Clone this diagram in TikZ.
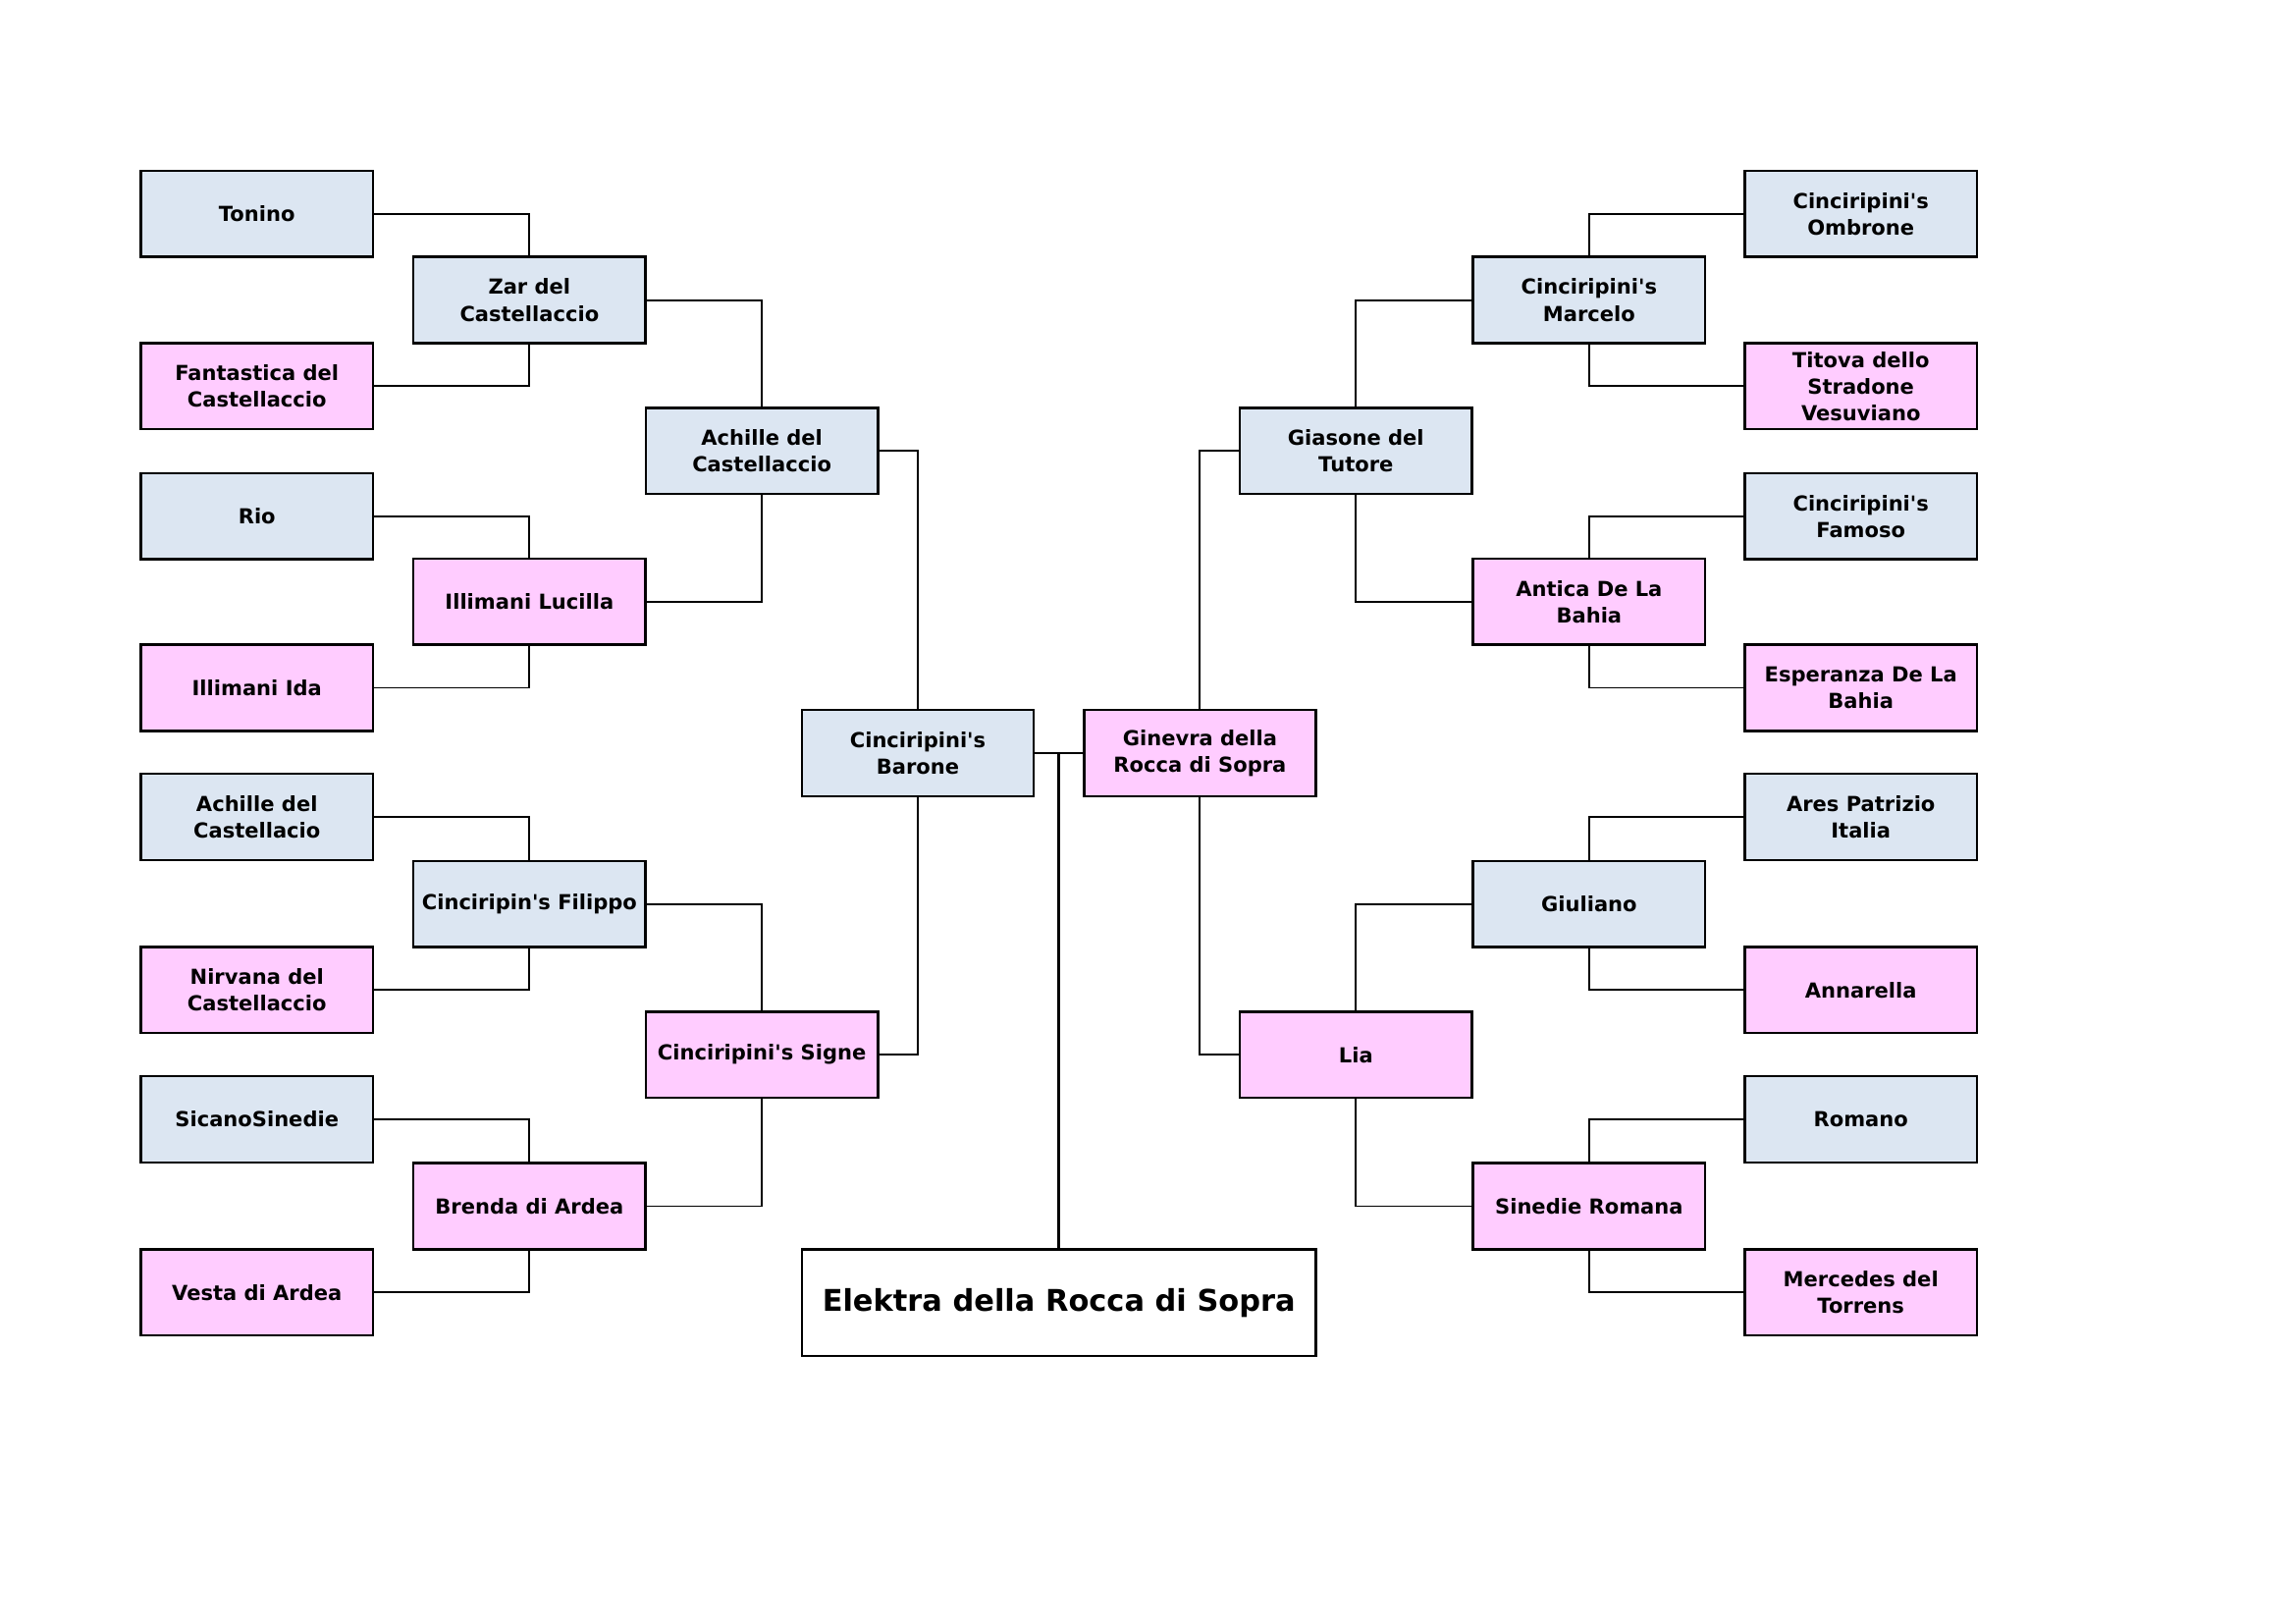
\documentclass[tikz,border=0pt]{standalone}
\usepackage{fontspec}
\setmainfont{DejaVu Sans}
\usetikzlibrary{calc}

\definecolor{maleblue}{HTML}{DCE6F2}
\definecolor{femalepink}{HTML}{FFCCFF}
\newcommand{\ap}{\textquotesingle}

\begin{document}
\begin{tikzpicture}[x=0.01921cm,y=-0.01921cm,
  dog/.style={draw,line width=0.9pt,minimum width=3cm,minimum height=1.114cm,
    inner sep=1pt,align=center,font=\bfseries\fontsize{7.6}{9.8}\selectfont},
  male/.style={dog,fill=maleblue},
  female/.style={dog,fill=femalepink},
  link/.style={line width=0.7pt}]

\useasboundingbox (0,0) rectangle (1546,1093);

% left half: Cinciripini's Barone
\begin{scope}
\node[male]   (tonino)     at (173,144)   {Tonino};
\node[female] (fantastica) at (173,260)   {Fantastica del\\Castellaccio};
\node[male]   (rio)        at (173,347.5) {Rio};
\node[female] (ida)        at (173,463)   {Illimani Ida};
\node[male]   (achilleb)   at (173,550)   {Achille del\\Castellacio};
\node[female] (nirvana)    at (173,666.5) {Nirvana del\\Castellaccio};
\node[male]   (sicano)     at (173,753.5) {SicanoSinedie};
\node[female] (vesta)      at (173,870)   {Vesta di Ardea};

\node[male]   (zar)        at (356.5,202) {Zar del\\Castellaccio};
\node[female] (lucilla)    at (356.5,405) {Illimani Lucilla};
\node[male]   (filippo)    at (356.5,608.5) {Cinciripin\ap s Filippo};
\node[female] (brenda)     at (356.5,812) {Brenda di Ardea};

\node[male]   (achille)    at (513,303.5) {Achille del\\Castellaccio};
\node[female] (signe)      at (513,710)   {Cinciripini\ap s Signe};

\node[male]   (barone)     at (618,507)   {Cinciripini\ap s\\Barone};

\draw[link] (tonino.east) -| (zar.north);
\draw[link] (fantastica.east) -| (zar.south);
\draw[link] (rio.east) -| (lucilla.north);
\draw[link] (ida.east) -| (lucilla.south);
\draw[link] (achilleb.east) -| (filippo.north);
\draw[link] (nirvana.east) -| (filippo.south);
\draw[link] (sicano.east) -| (brenda.north);
\draw[link] (vesta.east) -| (brenda.south);
\draw[link] (zar.east) -| (achille.north);
\draw[link] (lucilla.east) -| (achille.south);
\draw[link] (filippo.east) -| (signe.north);
\draw[link] (brenda.east) -| (signe.south);
\draw[link] (achille.east) -| (barone.north);
\draw[link] (signe.east) -| (barone.south);
\end{scope}

% right half: Ginevra della Rocca di Sopra
\begin{scope}
\node[male]   (ombrone)    at (1253,144)   {Cinciripini\ap s\\Ombrone};
\node[female] (titova)     at (1253,260)   {Titova dello\\Stradone\\Vesuviano};
\node[male]   (famoso)     at (1253,347.5) {Cinciripini\ap s\\Famoso};
\node[female] (esperanza)  at (1253,463)   {Esperanza De La\\Bahia};
\node[male]   (ares)       at (1253,550)   {Ares Patrizio\\Italia};
\node[female] (annarella)  at (1253,666.5) {Annarella};
\node[male]   (romano)     at (1253,753.5) {Romano};
\node[female] (mercedes)   at (1253,870)   {Mercedes del\\Torrens};

\node[male]   (marcelo)    at (1070,202)   {Cinciripini\ap s\\Marcelo};
\node[female] (antica)     at (1070,405)   {Antica De La\\Bahia};
\node[male]   (giuliano)   at (1070,608.5) {Giuliano};
\node[female] (sinedie)    at (1070,812)   {Sinedie Romana};

\node[male]   (giasone)    at (913,303.5)  {Giasone del\\Tutore};
\node[female] (lia)        at (913,710)    {Lia};

\node[female] (ginevra)    at (808,507)    {Ginevra della\\Rocca di Sopra};

\draw[link] (marcelo.north) |- (ombrone.west);
\draw[link] (marcelo.south) |- (titova.west);
\draw[link] (antica.north) |- (famoso.west);
\draw[link] (antica.south) |- (esperanza.west);
\draw[link] (giuliano.north) |- (ares.west);
\draw[link] (giuliano.south) |- (annarella.west);
\draw[link] (sinedie.north) |- (romano.west);
\draw[link] (sinedie.south) |- (mercedes.west);
\draw[link] (giasone.north) |- (marcelo.west);
\draw[link] (giasone.south) |- (antica.west);
\draw[link] (lia.north) |- (giuliano.west);
\draw[link] (lia.south) |- (sinedie.west);
\draw[link] (ginevra.north) |- (giasone.west);
\draw[link] (ginevra.south) |- (lia.west);
\end{scope}

% the dog herself
\node[draw,line width=0.8pt,fill=white,minimum width=6.65cm,minimum height=1.383cm,
  font=\bfseries\fontsize{11}{13}\selectfont] (elektra) at (713,877) {Elektra della Rocca di Sopra};

\draw[link] (barone.east) -- (ginevra.west);
\draw[line width=1pt] (elektra.north) -- (elektra.north |- barone.east);

\end{tikzpicture}
\end{document}
